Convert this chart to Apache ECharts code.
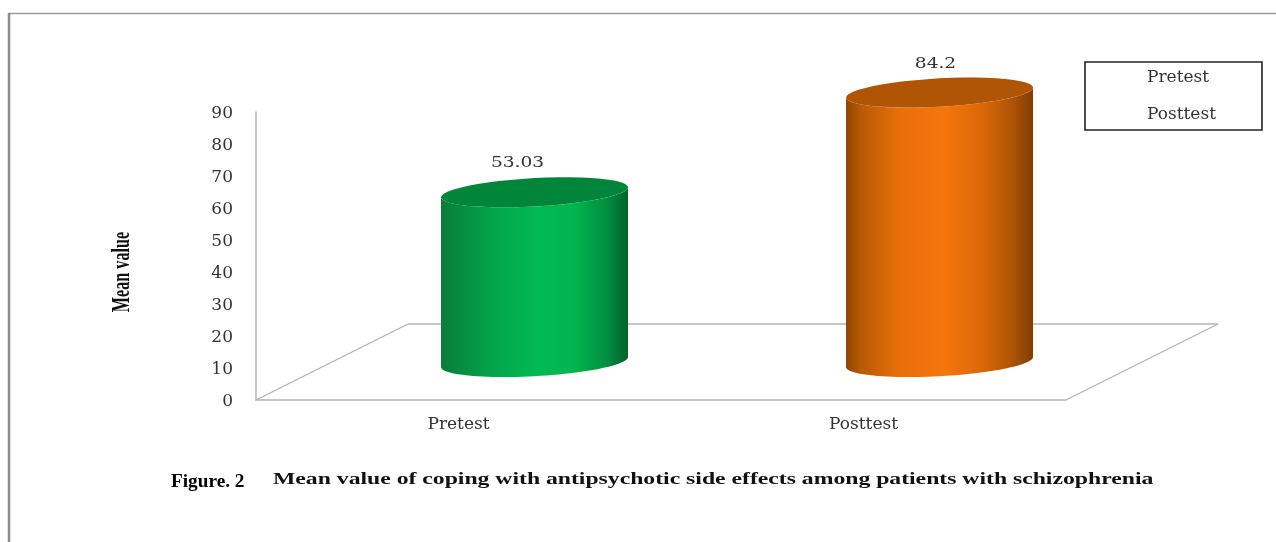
<!DOCTYPE html>
<html>
<head>
<meta charset="utf-8">
<style>html,body{margin:0;padding:0;background:#fff}#c{width:1276px;height:542px}</style>
<script src="https://cdn.jsdelivr.net/npm/echarts@6/dist/echarts.min.js"></script>
</head>
<body>
<div id="c"></div>
<script>
const categories = ['Pretest', 'Posttest'];
const meanValues = [53.03, 84.2];
const yMin = 0, yMax = 90, yStep = 10;
const yAxisTitle = 'Mean value';
const figureLabel = 'Figure. 2';
const captionText = 'Mean value of coping with antipsychotic side effects among patients with schizophrenia';

const DEPTH_X = 152, DEPTH_Y = 76;
const HALF_W = 93.5, TILT = -5 / 93.5, MINOR = 14.2;
const looks = [
  { top: '#00853a', labelDx: -17,
    side: ['#0b7a3a', '#07883f', '#03a54a', '#00ba52', '#02b44f', '#028f41', '#00632b'] },
  { top: '#b05505', labelDx: -4,
    side: ['#8f4503', '#b85a06', '#e86e0a', '#f5760c', '#dd6808', '#b25507', '#7f3d02'] }
];
const stopsAt = [0, 0.08, 0.28, 0.52, 0.72, 0.88, 1];

function arcPoints(cx, cy, from, to) {
  const pts = [], n = 48;
  for (let i = 0; i <= n; i++) {
    const t = from + (to - from) * i / n;
    const dx = HALF_W * Math.cos(t);
    pts.push([cx + dx, cy + TILT * dx + MINOR * Math.sin(t)]);
  }
  return pts;
}

function cylinderRenderer(look) {
  return function (params, api) {
    const top = api.coord([api.value(0), api.value(1)]);
    const base = api.coord([api.value(0), 0]);
    const cx = top[0] + DEPTH_X / 2;
    const topY = top[1] - DEPTH_Y / 2;
    const botY = base[1] - DEPTH_Y / 2;
    const lower = arcPoints(cx, botY, Math.PI, 0);
    const upperEdge = arcPoints(cx, topY, 0, Math.PI);
    return {
      type: 'group',
      children: [
        {
          type: 'polygon',
          shape: { points: lower.concat(upperEdge) },
          style: {
            fill: new echarts.graphic.LinearGradient(0, 0, 1, 0,
              look.side.map((c, i) => ({ offset: stopsAt[i], color: c })))
          }
        },
        {
          type: 'polygon',
          shape: { points: arcPoints(cx, topY, 0, Math.PI * 2) },
          style: { fill: look.top }
        },
        {
          type: 'text',
          x: cx + look.labelDx,
          y: topY - 29,
          scaleX: 1.2,
          style: {
            text: String(api.value(1)),
            font: '15.5px "DejaVu Serif"',
            fill: '#333',
            textAlign: 'center',
            textVerticalAlign: 'middle'
          }
        }
      ]
    };
  };
}

function floorRenderer(params, api) {
  const g = params.coordSys;
  const bottom = g.y + g.height, right = g.x + g.width;
  const seg = (x1, y1, x2, y2) => ({
    type: 'line',
    shape: { x1, y1, x2, y2 },
    style: { stroke: '#b4b4b4', lineWidth: 1.3 }
  });
  return {
    type: 'group',
    children: [
      seg(g.x, bottom, g.x + DEPTH_X, bottom - DEPTH_Y),
      seg(g.x + DEPTH_X, bottom - DEPTH_Y, right + DEPTH_X, bottom - DEPTH_Y),
      seg(right + DEPTH_X, bottom - DEPTH_Y, right, bottom)
    ]
  };
}

const chart = echarts.init(document.getElementById('c'), null, { renderer: 'canvas' });
const serif = '"DejaVu Serif"';

chart.setOption({
  animation: false,
  backgroundColor: '#fff',
  grid: { left: 256, top: 112, width: 810, height: 288, containLabel: false },
  xAxis: {
    type: 'category',
    data: categories,
    axisTick: { show: false },
    axisLine: { lineStyle: { color: '#b4b4b4', width: 1.5 } },
    axisLabel: { color: '#333', fontFamily: serif, fontSize: 17, margin: 16 },
    splitLine: { show: false }
  },
  yAxis: {
    type: 'value',
    min: yMin, max: yMax, interval: yStep,
    axisLine: { show: true, lineStyle: { color: '#b4b4b4', width: 1.5 } },
    axisTick: { show: false },
    splitLine: { show: false },
    axisLabel: {
      margin: 23,
      formatter: '{t|{value}}',
      rich: { t: { color: '#333', fontFamily: serif, fontSize: 17, padding: [4, 0, 0, 0] } }
    }
  },
  legend: {
    data: categories,
    orient: 'vertical',
    left: 1085, top: 62,
    padding: [7, 46, 7, 17],
    itemWidth: 40, itemHeight: 14, itemGap: 20,
    selectedMode: false,
    borderColor: '#222', borderWidth: 1.6,
    backgroundColor: '#fff',
    itemStyle: { opacity: 0 },
    textStyle: { color: '#333', fontFamily: serif, fontSize: 17, lineHeight: 14 }
  },
  series: [
    { type: 'custom', name: 'floor', renderItem: floorRenderer, data: [[0, 0]], z: 1, silent: true },
  ].concat(categories.map((name, i) => ({
    type: 'custom',
    name,
    z: 3,
    renderItem: cylinderRenderer(looks[i]),
    encode: { x: 0, y: 1 },
    itemStyle: { color: looks[i].side[3] },
    data: [[i, meanValues[i]]]
  }))),
  graphic: [
    { type: 'line', shape: { x1: 8, y1: 13.5, x2: 1276, y2: 13.5 }, style: { stroke: '#9a9a9a', lineWidth: 1.5 } },
    { type: 'line', shape: { x1: 9, y1: 13, x2: 9, y2: 542 }, style: { stroke: '#8c8c8c', lineWidth: 2.5 } },
    {
      type: 'text', x: 171, y: 482, scaleX: 1.07,
      style: { text: figureLabel, font: 'bold 18px "Liberation Serif"', fill: '#000', textAlign: 'left', textVerticalAlign: 'middle' }
    },
    {
      type: 'text', x: 273, y: 480, scaleX: 1.48,
      style: { text: captionText, font: 'bold 16px "Liberation Serif"', fill: '#111', textAlign: 'left', textVerticalAlign: 'middle' }
    },
    {
      type: 'text', x: 123, y: 272, rotation: Math.PI / 2, scaleX: 0.95, scaleY: 1.45,
      style: { text: yAxisTitle, font: 'bold 17px "Liberation Serif"', fill: '#111', textAlign: 'center', textVerticalAlign: 'middle' }
    }
  ]
});
</script>
</body>
</html>
